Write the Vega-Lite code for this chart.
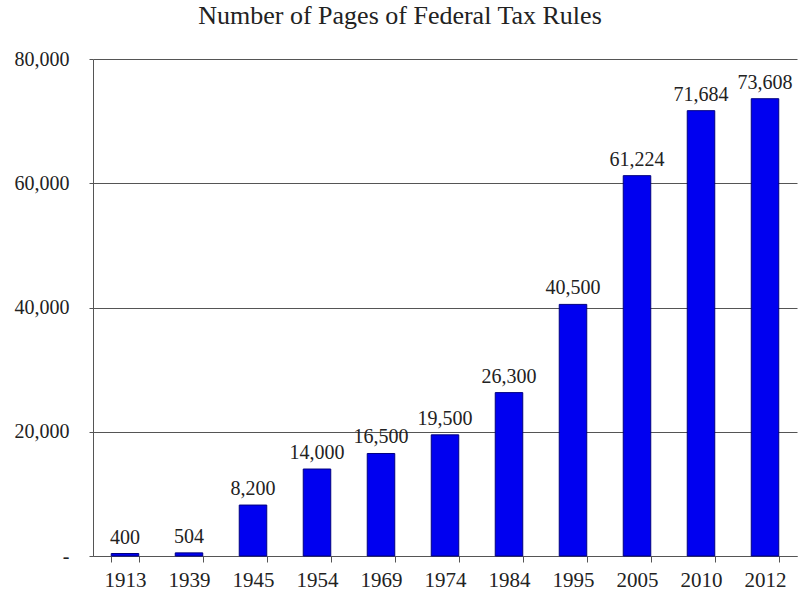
{
  "$schema": "https://vega.github.io/schema/vega-lite/v6.json",
  "width": 704,
  "height": 497,
  "autosize": {"type": "none"},
  "padding": {"left": 93, "top": 59, "right": 2, "bottom": 42},
  "background": "white",
  "title": {
    "text": "Number of Pages of Federal Tax Rules",
    "font": "Liberation Serif",
    "fontSize": 26,
    "fontWeight": "normal",
    "color": "#222",
    "anchor": "middle",
    "dx": -45,
    "offset": 20
  },
  "data": {
    "values": [
      {"year": "1913", "pages": 400},
      {"year": "1939", "pages": 504},
      {"year": "1945", "pages": 8200},
      {"year": "1954", "pages": 14000},
      {"year": "1969", "pages": 16500},
      {"year": "1974", "pages": 19500},
      {"year": "1984", "pages": 26300},
      {"year": "1995", "pages": 40500},
      {"year": "2005", "pages": 61224},
      {"year": "2010", "pages": 71684},
      {"year": "2012", "pages": 73608}
    ]
  },
  "encoding": {
    "x": {
      "field": "year",
      "type": "nominal",
      "sort": null,
      "scale": {"paddingInner": 0.57, "paddingOuter": 0.285},
      "axis": {
        "title": null,
        "labelAngle": 0,
        "labelFont": "Liberation Serif",
        "labelFontSize": 21,
        "labelColor": "#222",
        "labelPadding": 7,
        "tickBand": "extent",
        "tickSize": 6,
        "tickColor": "#555",
        "domainColor": "#555",
        "grid": false
      }
    },
    "y": {
      "field": "pages",
      "type": "quantitative",
      "scale": {"domain": [0, 80000], "nice": false},
      "axis": {
        "title": null,
        "values": [0, 20000, 40000, 60000, 80000],
        "labelExpr": "datum.value == 0 ? '-' : format(datum.value, ',')",
        "labelFont": "Liberation Serif",
        "labelFontSize": 20,
        "labelColor": "#222",
        "labelPadding": 20,
        "tickSize": 4,
        "tickColor": "#555",
        "domainColor": "#555",
        "grid": true,
        "gridColor": "#555",
        "gridOpacity": 1
      }
    }
  },
  "layer": [
    {
      "mark": {"type": "bar", "color": "#0000f0", "stroke": "#000080", "strokeWidth": 1}
    },
    {
      "mark": {"type": "text", "baseline": "bottom", "dy": -6, "font": "Liberation Serif", "fontSize": 20, "color": "#222"},
      "encoding": {
        "text": {"field": "pages", "type": "quantitative", "format": ","}
      }
    }
  ],
  "config": {"view": {"stroke": null}}
}
